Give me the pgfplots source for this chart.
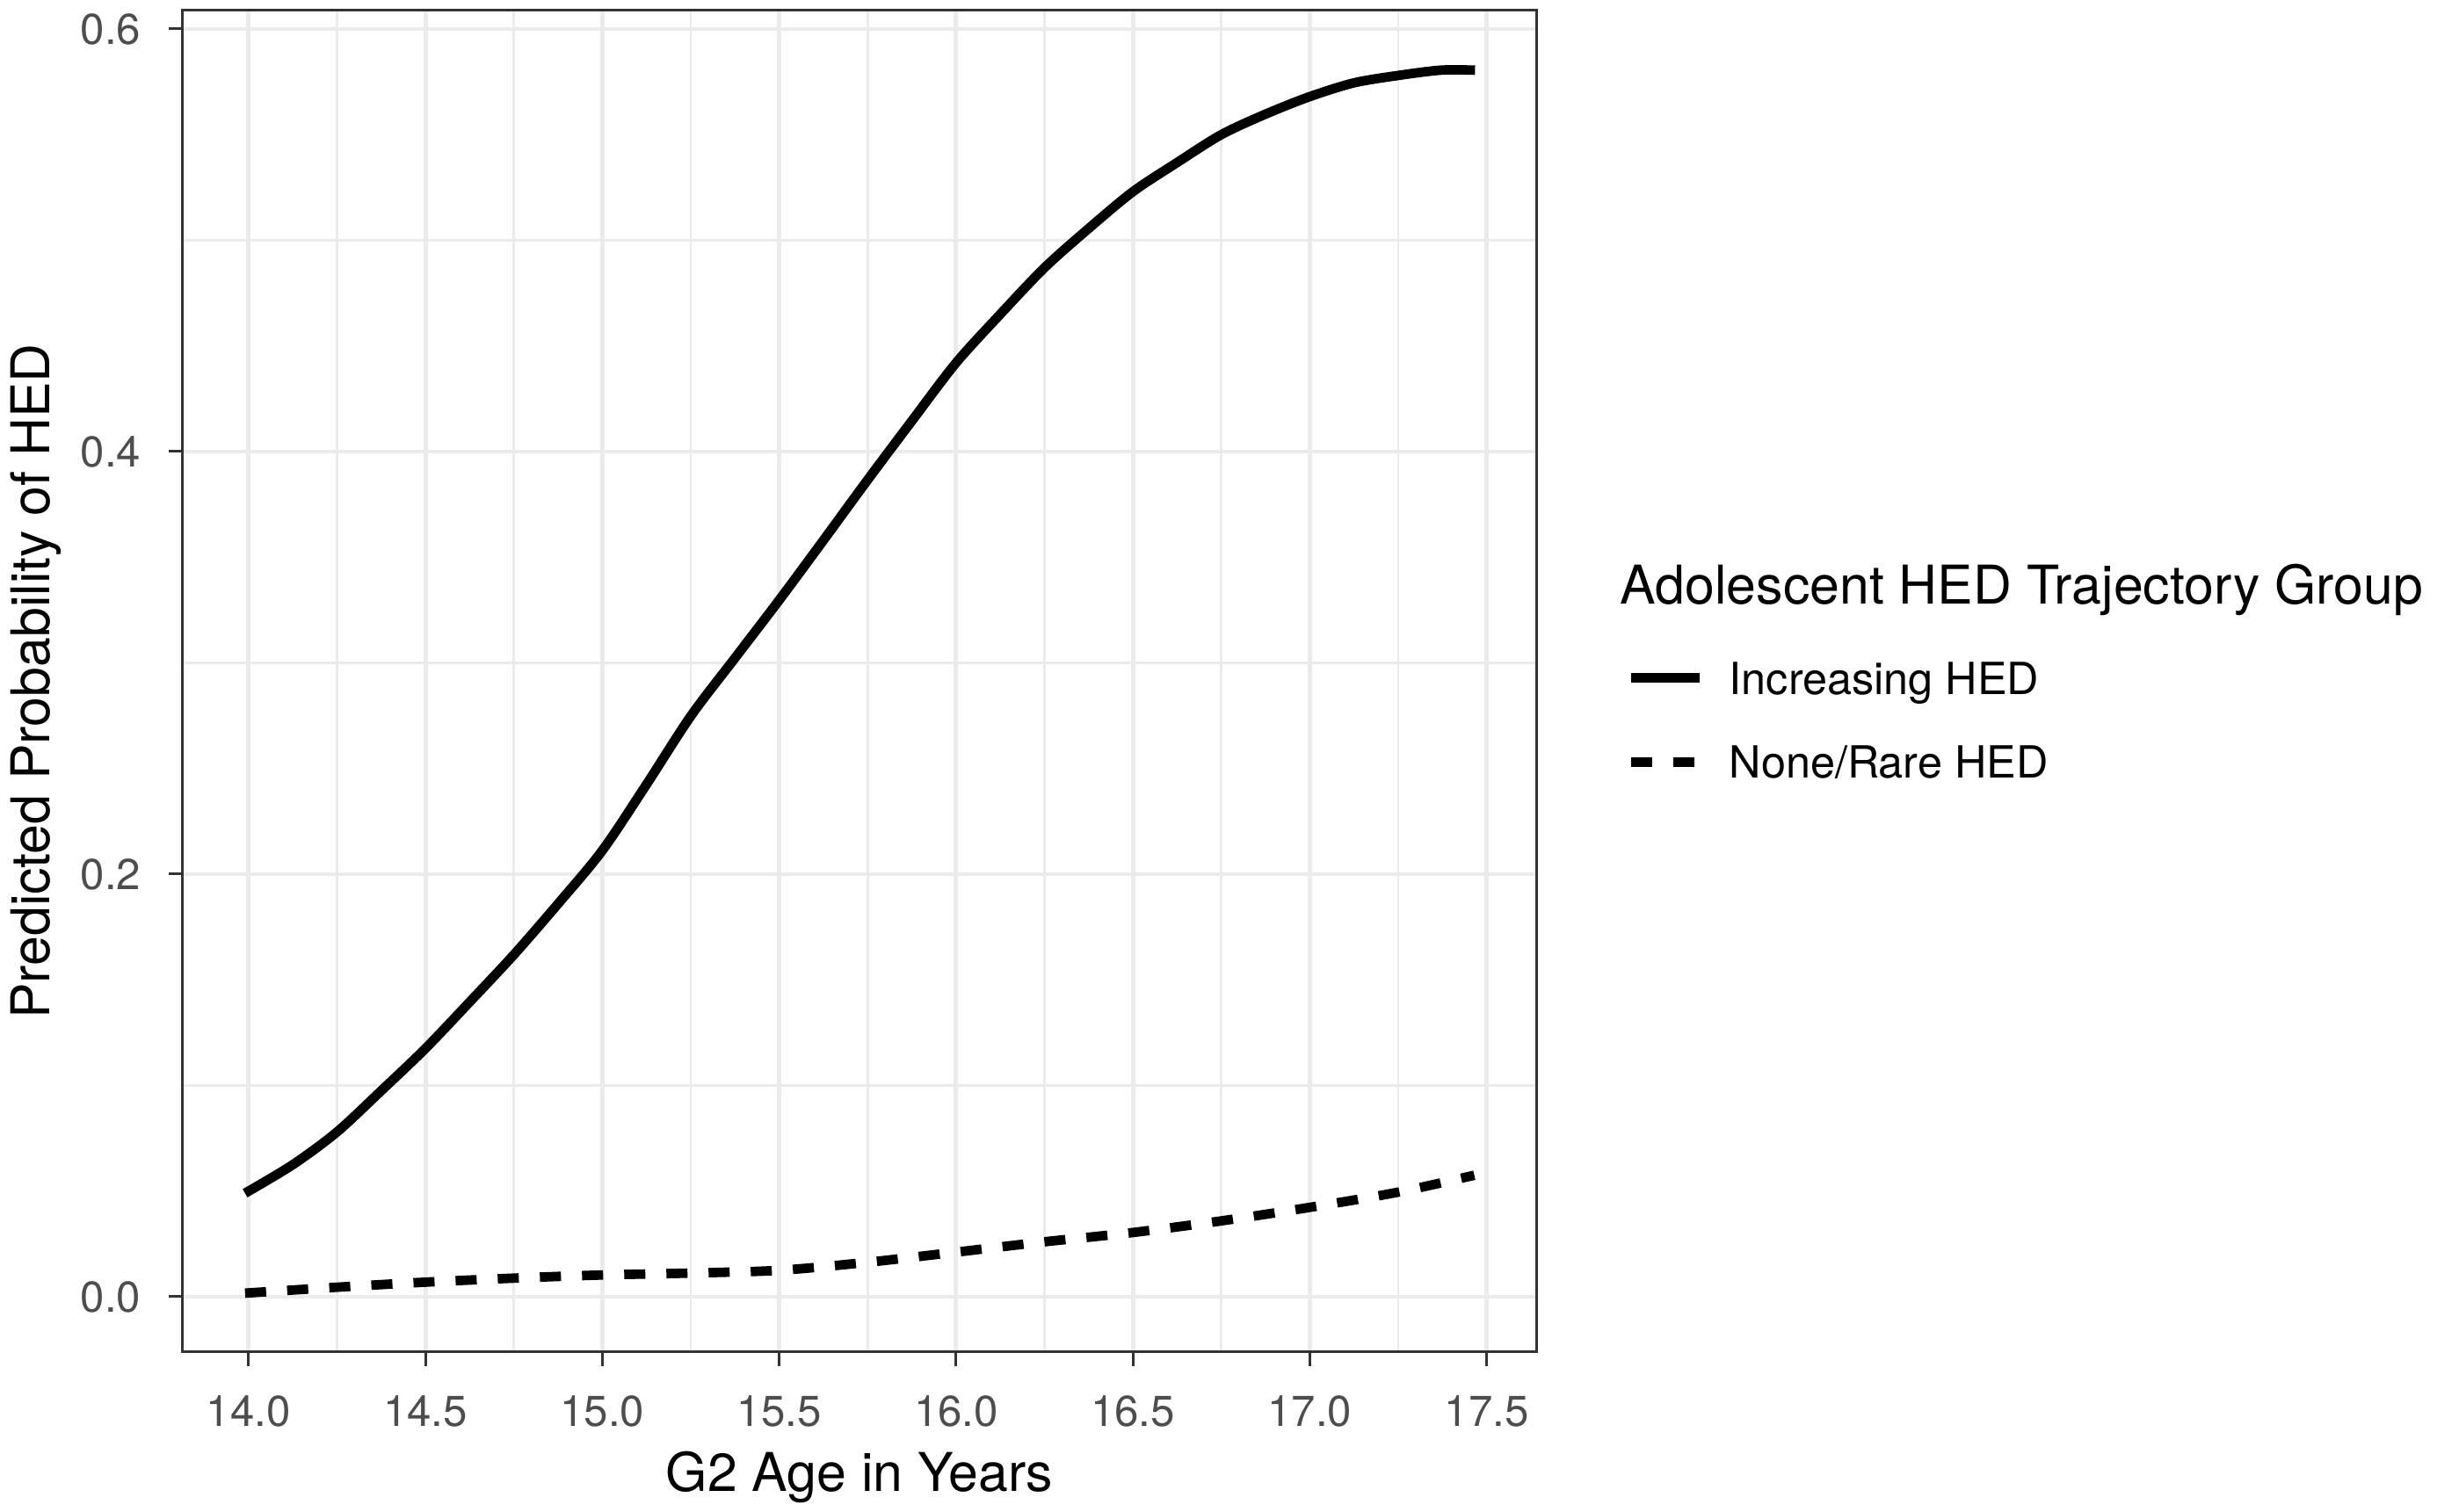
\documentclass[border=0pt]{standalone}
\usepackage{fontspec}
\setmainfont{TeX Gyre Heros}
\usepackage{pgfplots}
\pgfplotsset{compat=1.18}
\definecolor{gridc}{HTML}{EBEBEB}
\definecolor{axc}{HTML}{333333}
\definecolor{tlc}{HTML}{4D4D4D}
\begin{document}
\begin{tikzpicture}
\path[use as bounding box] (-52pt,-45.5pt) rectangle (641.25pt,384.75pt);
\begin{axis}[
  at={(0pt,0pt)}, anchor=south west,
  scale only axis, width=385pt, height=381.75pt,
  xmin=13.814, xmax=17.64, ymin=-0.0262, ymax=0.60873,
  xtick={14,14.5,15,15.5,16,16.5,17,17.5},
  xticklabels={14.0,14.5,15.0,15.5,16.0,16.5,17.0,17.5},
  ytick={0,0.2,0.4,0.6}, yticklabels={0.0,0.2,0.4,0.6},
  minor x tick num=1, minor y tick num=1,
  grid=both,
  major grid style={gridc, line width=1.2pt},
  minor grid style={gridc, line width=0.7pt},
  tick pos=left, tick align=outside,
  major tick length=4pt, minor tick length=0pt,
  every tick/.style={axc, line width=0.75pt},
  axis line style={axc, line width=0.75pt},
  ticklabel style={font=\fontsize{12.3}{14}\selectfont, text=tlc},
  xticklabel style={anchor=north, inner sep=0pt, yshift=-8.25pt},
  yticklabel style={anchor=east, inner sep=0pt, xshift=-7.75pt},
  xlabel={G2 Age in Years}, ylabel={Predicted Probability of HED},
  label style={font=\fontsize{15.2}{18}\selectfont},
  xlabel style={at={(axis description cs:0.5,-0.10413)}, anchor=base, inner sep=0pt},
  ylabel style={at={(axis description cs:-0.09805,0.5)}, anchor=base, inner sep=0pt},
  legend style={at={(axis description cs:1.06688,0.47119)}, anchor=west, draw=none, fill=none,
    inner sep=0pt, outer sep=0pt, row sep=14.7pt, font=\fontsize{12.6}{14}\selectfont,
    nodes={inner sep=0pt, text depth=0pt}},
  legend cell align=left,
  legend image code/.code={\draw[#1] (0pt,0pt) -- (19.5pt,0pt); \path (26.5pt,0pt);},
]
\addplot[black, line width=2.7pt, smooth] table {
13.99 0.049
14.125 0.0625
14.25 0.078
14.375 0.0975
14.5 0.1175
14.625 0.1395
14.75 0.1619
14.875 0.1860
15.0 0.2112
15.125 0.2425
15.25 0.2748
15.375 0.3023
15.5 0.3297
15.625 0.3580
15.75 0.3866
15.875 0.4145
16.0 0.4420
16.125 0.4650
16.25 0.4870
16.375 0.5056
16.5 0.5230
16.625 0.5368
16.75 0.5500
16.875 0.5597
17.0 0.5680
17.125 0.5745
17.25 0.5780
17.37 0.5805
17.467 0.5805
};
\addlegendentry{Increasing HED}
\addplot[black, line width=2.7pt, dash pattern=on 6pt off 6pt, smooth] table {
13.99 0.0017
14.25 0.0045
14.5 0.0069
14.75 0.0088
15.0 0.0103
15.25 0.0112
15.5 0.0125
15.75 0.0163
16.0 0.0211
16.25 0.026
16.5 0.0304
16.75 0.0359
17.0 0.0423
17.25 0.0495
17.465 0.0575
};
\addlegendentry{None/Rare HED}
\end{axis}
\node[anchor=base west, inner sep=0pt, font=\fontsize{15.2}{18}\selectfont] at (408.75pt,212.75pt) {Adolescent HED Trajectory Group};
\end{tikzpicture}
\end{document}
